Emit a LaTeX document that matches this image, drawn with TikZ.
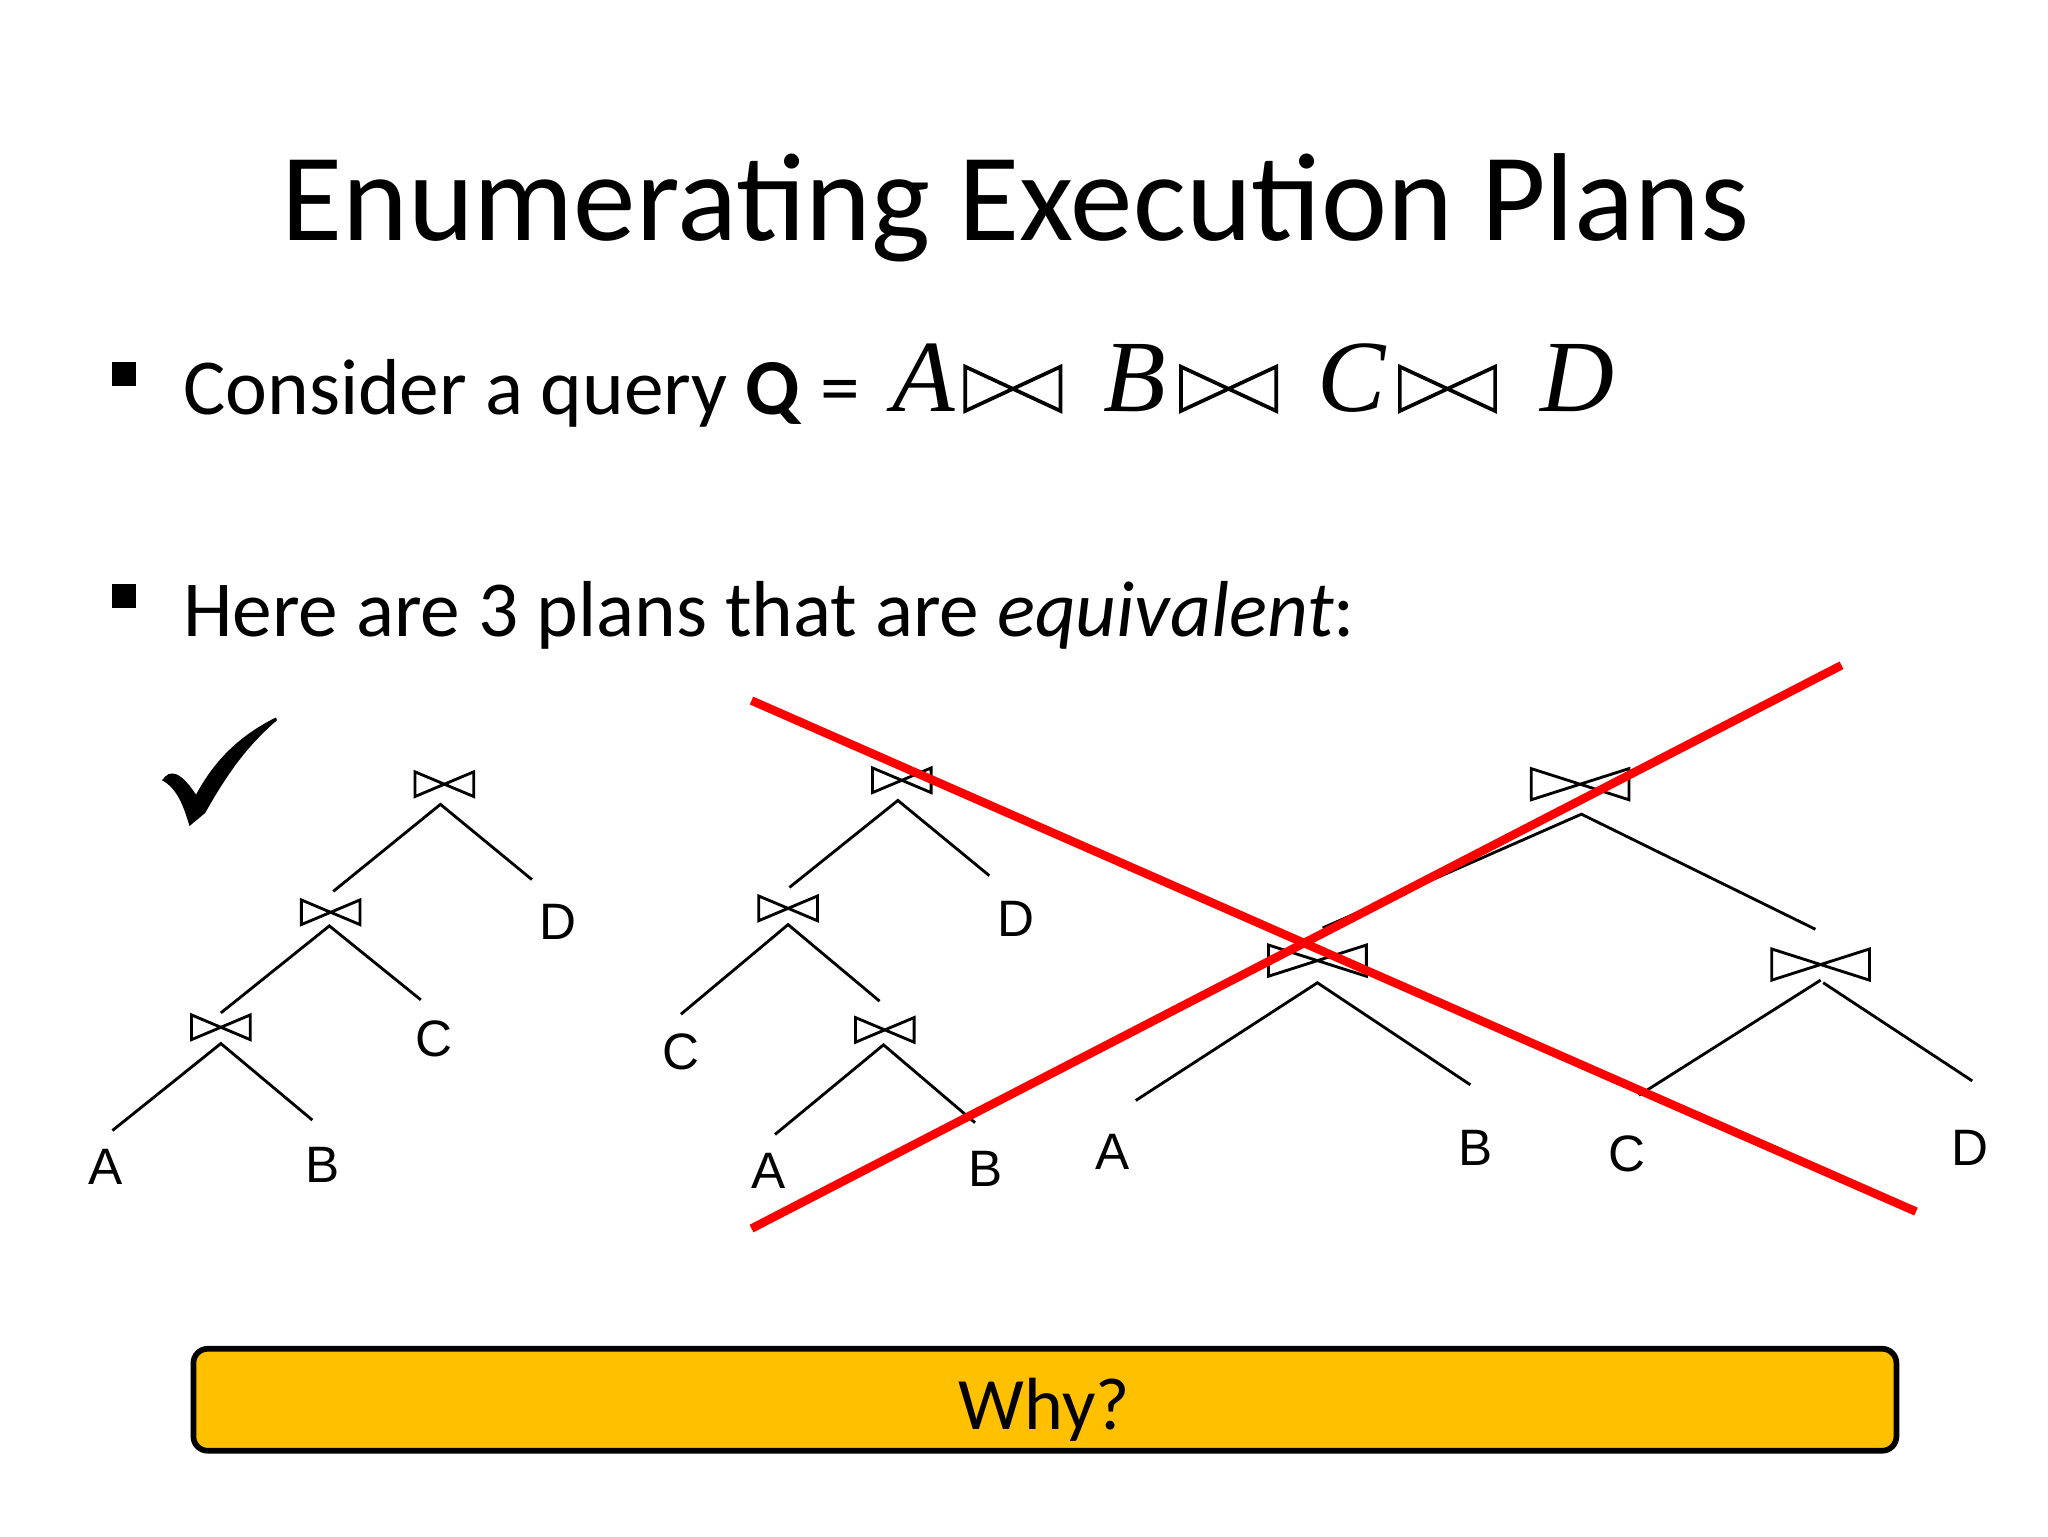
\documentclass[tikz,border=0pt]{standalone}
\usepackage{fontspec}
\setmainfont{Carlito}
\newfontfamily\labelfont{Liberation Sans}
\newfontfamily\relfont{Liberation Serif}
\usetikzlibrary{positioning}
\definecolor{whybox}{HTML}{FFC000}
\def\unitpx{0.45948pt}
% bow-tie join symbol: name, centre, width, height, line width
\newcommand{\joinmark}[5]{%
\node[minimum width=#3*\unitpx,minimum height=#4*\unitpx,inner sep=0pt] (#1) at (#2) {};
\draw[line width=#5,line join=miter] (#1.north west) -- (#1.south east) -- (#1.north east) -- (#1.south west) -- cycle;
}

\begin{document}
\begin{tikzpicture}[%
x=\unitpx,
y=-\unitpx,
leg/.style={line width=1pt,line join=miter},
strike/.style={line width=3pt,draw=red},
rel/.style={anchor=base west,font=\relfont\itshape\fontsize{36}{36}\selectfont},
body/.style={anchor=base west,font=\fontsize{27.9}{34}\selectfont},
table/.style={font=\labelfont\fontsize{18}{18}\selectfont,inner sep=0pt},
bullet/.style={fill=black,minimum size=18*\unitpx,inner sep=0pt},
]
\useasboundingbox (0,0) rectangle (1567,1175.25);

\node[font=\fontsize{44}{50}\selectfont] (title) at (777,159) {Enumerating Execution Plans};

% query line
\node[bullet] (b1) at (95,286) {};
\node[body] (query) at (132.5,317) {Consider a query \textbf{Q} =};
\node[rel] (qa) at (675,315) {A};
\node[rel] (qb) at (836.5,315) {B};
\node[rel] (qc) at (1000,315) {C};
\node[rel] (qd) at (1171,315) {D};
\joinmark{q1}{775,297.5}{72}{33}{1.3pt}
\joinmark{q2}{940,297.5}{72}{33}{1.3pt}
\joinmark{q3}{1107.5,297.5}{72}{33}{1.3pt}

\node[bullet] (b2) at (95,456) {};
\node[body] (plans) at (132.5,487) {Here are 3 plans that are \textit{equivalent}:};

% check mark
\fill (124,597) .. controls (130,588) and (138,590) .. (150,608)
  .. controls (165,580) and (185,562) .. (211,549) -- (212,551)
  .. controls (190,570) and (175,590) .. (157,622) -- (145,632)
  .. controls (140,615) and (135,603) .. (124,597) -- cycle;

% left-deep plan
\joinmark{j1}{340,600}{44}{18}{1pt}
\joinmark{j2}{253,698}{44}{18}{1pt}
\joinmark{j3}{169,786}{44}{18}{1pt}
\node[table] (la) at (81,893) {A};
\node[table] (lb) at (247,891) {B};
\node[table] (lc) at (332,795) {C};
\node[table] (ld) at (427,705) {D};
\coordinate (e1l) at (255,682);
\coordinate (e1r) at (407,673);
\coordinate (e2l) at (169,775);
\coordinate (e2r) at (322,765);
\coordinate (e3l) at (86,865);
\coordinate (e3r) at (239,857);
\draw[leg] (e1l) -- ([shift={(-3,6)}]j1.south) -- (e1r);
\draw[leg] (e2l) -- ([shift={(-1,1)}]j2.south) -- (e2r);
\draw[leg] (e3l) -- ([shift={(0,3)}]j3.south) -- (e3r);

% middle plan
\joinmark{m1}{690,597}{44}{18}{1pt}
\joinmark{m2}{603,695}{44}{18}{1pt}
\joinmark{m3}{677,788}{44}{18}{1pt}
\node[table] (ma) at (588,896) {A};
\node[table] (mb) at (754,894) {B};
\node[table] (mc) at (521,805) {C};
\node[table] (md) at (777,703) {D};
\coordinate (f1l) at (604,679);
\coordinate (f1r) at (757,670);
\coordinate (f2l) at (521,776);
\coordinate (f2r) at (673,766);
\coordinate (f3l) at (593,868);
\coordinate (f3r) at (746,859);
\draw[leg] (f1l) -- ([shift={(-3,6)}]m1.south) -- (f1r);
\draw[leg] (f2l) -- ([shift={(0,3)}]m2.south) -- (f2r);
\draw[leg] (f3l) -- ([shift={(-1,2)}]m3.south) -- (f3r);

% bushy plan
\joinmark{r1}{1209,600}{74}{23}{1pt}
\joinmark{r2}{1008,735}{74}{23}{1pt}
\joinmark{r3}{1393,738}{74}{23}{1pt}
\node[table] (ra) at (851,881) {A};
\node[table] (rb) at (1129,878) {B};
\node[table] (rc) at (1245,883) {C};
\node[table] (rd) at (1507,878) {D};
\coordinate (g1l) at (1012,710);
\coordinate (g1r) at (1389,711);
\coordinate (g2l) at (869,842);
\coordinate (g2r) at (1125,830);
\coordinate (g3l) at (1254,838);
\coordinate (g3r) at (1509,827);
\draw[leg] (g1l) -- ([shift={(1,11)}]r1.south) -- (g1r);
\draw[leg] (g2l) -- ([shift={(0,5)}]r2.south) -- (g2r);
\draw[leg] (g3l) -- (r3.south);
\draw[leg] ([shift={(2,2)}]r3.south) -- (g3r);

% crossed out plans
\coordinate (s1a) at (575,536);
\coordinate (s1b) at (1466,927);
\coordinate (s2a) at (575,940);
\coordinate (s2b) at (1409,509);
\draw[strike] (s1a) -- (s1b);
\draw[strike] (s2a) -- (s2b);

\node[draw=black,fill=whybox,line width=2pt,rounded corners=5pt,minimum width=1303*\unitpx,minimum height=78*\unitpx,inner sep=0pt] (why) at (799.5,1071) {};
\node[font=\fontsize{26}{32}\selectfont] (whytext) at (799,1079) {Why?};
\end{tikzpicture}
\end{document}
